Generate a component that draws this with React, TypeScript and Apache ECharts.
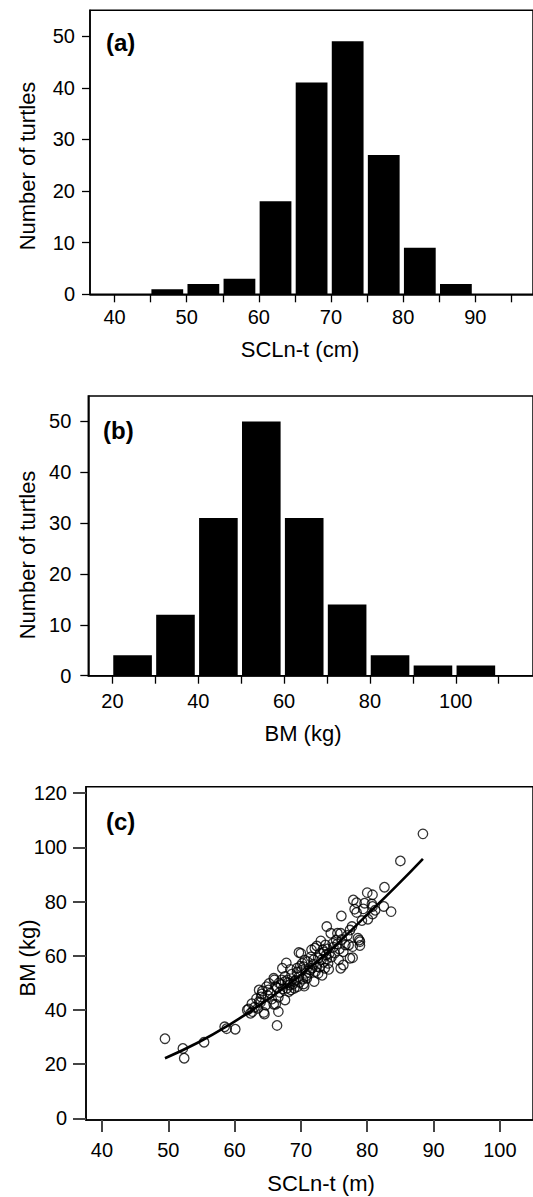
import React, { useEffect, useRef } from 'react';
import * as echarts from 'echarts';

// Panel (a): SCLn-t histogram (cm)
const sclBinStarts = [45, 50, 55, 60, 65, 70, 75, 80, 85];
const sclCounts = [1, 2, 3, 18, 41, 49, 27, 9, 2];
const sclBinWidth = 5;
const sclLabelTicks = [40, 50, 60, 70, 80, 90];
const sclTickMarks = [40, 45, 50, 55, 60, 65, 70, 75, 80, 85, 90, 95];

// Panel (b): BM histogram (kg)
const bmBinStarts = [20, 30, 40, 50, 60, 70, 80, 90, 100];
const bmCounts = [4, 12, 31, 50, 31, 14, 4, 2, 2];
const bmBinWidth = 10;
const bmLabelTicks = [20, 40, 60, 80, 100];
const bmTickMarks = [20, 30, 40, 50, 60, 70, 80, 90, 100, 110];

const countTicks = [0, 10, 20, 30, 40, 50];

// Panel (c): scatter BM vs SCLn-t
const cXTicks = [40, 50, 60, 70, 80, 90, 100];
const cYTicks = [0, 20, 40, 60, 80, 100, 120];

const scatterSCL = [
  49.5, 52.2, 52.4, 55.4, 58.5, 58.8, 60.1, 62.1, 62.4, 62.7, 63.0, 63.7, 63.5, 64.4, 64.5, 64.7,
  66.4, 66.6, 65.9, 66.2, 66.6, 63.7, 64.1, 64.8, 65.1, 65.4, 65.9, 66.0, 66.2, 67.2, 67.8, 67.6,
  67.1, 67.6, 68.0, 68.3, 68.5, 69.0, 69.5, 69.7, 69.4, 69.7, 70.0, 70.2, 70.4, 70.7, 70.4, 70.9,
  71.4, 71.6, 71.9, 72.1, 72.4, 72.6, 72.9, 73.0, 73.1, 73.3, 73.6, 73.8, 74.1, 74.3, 74.5, 73.9,
  74.8, 75.3, 75.5, 75.7, 76.0, 76.1, 76.0, 76.4, 76.7, 77.2, 77.4, 77.7, 77.4, 77.8, 77.8, 78.6,
  78.8, 78.9, 78.9, 77.9, 78.1, 78.4, 79.4, 79.6, 80.0, 80.8, 80.1, 80.7, 80.8, 80.8, 82.5, 82.6,
  83.6, 85.0, 88.4,
  63.3, 64.0, 65.0, 65.6, 66.8, 67.3, 67.9, 68.2, 68.8, 69.2, 69.8, 70.3, 70.8, 71.2, 71.7, 72.2,
  72.8, 73.4, 73.9, 74.6, 75.1, 75.8, 76.4, 71.0, 70.6, 69.4, 68.6, 67.6, 66.7, 66.4, 71.5, 72.6,
  73.5, 74.0, 74.9, 75.5, 76.2, 72.0, 70.5, 69.0, 73.2, 74.2, 69.9, 68.4, 67.0, 65.2, 64.2, 62.6,
  61.9, 63.9, 72.4, 73.7, 77.0, 79.2, 81.2, 78.4, 70.1, 71.9, 68.0
];
const scatterBM = [
  29.4, 25.8, 22.2, 28.1, 33.8, 33.1, 32.9, 40.4, 38.8, 39.4, 41.0, 43.1, 40.6, 39.1, 38.5, 41.8,
  34.3, 39.4, 42.1, 42.1, 44.7, 47.4, 45.9, 48.6, 47.4, 46.2, 51.7, 51.1, 48.6, 55.4, 57.4, 43.7,
  51.1, 50.5, 51.1, 49.2, 47.4, 50.5, 48.6, 52.3, 55.4, 61.2, 60.9, 57.2, 56.0, 53.5, 49.6, 51.7,
  54.8, 62.2, 58.5, 62.8, 56.0, 53.5, 60.9, 65.5, 58.5, 62.2, 55.4, 60.3, 57.2, 60.9, 68.3, 70.8,
  64.6, 65.8, 68.3, 58.5, 68.3, 74.7, 55.4, 56.6, 64.0, 64.0, 69.5, 70.8, 59.1, 59.3, 63.4, 66.5,
  65.8, 65.2, 63.8, 80.6, 77.2, 79.6, 77.3, 79.4, 83.3, 82.5, 73.5, 79.1, 75.4, 78.2, 78.2, 85.3,
  76.3, 95.0, 105.0,
  44.2, 44.8, 45.3, 44.0, 46.5, 47.8, 48.0, 46.8, 49.5, 51.0, 50.2, 51.4, 52.6, 53.8, 55.5, 54.2,
  55.8, 57.6, 58.8, 59.5, 61.0, 62.5, 61.5, 57.8, 58.4, 54.0, 53.2, 52.4, 50.0, 48.2, 59.6, 59.2,
  61.4, 62.5, 63.2, 64.4, 66.0, 50.5, 48.8, 48.0, 52.8, 55.0, 56.2, 55.0, 49.4, 49.8, 47.0, 42.3,
  40.0, 42.8, 63.6, 64.0, 67.5, 73.0, 76.8, 76.0, 54.6, 56.9, 50.0
];

// Fitted curve
const fitSCL = [49.5, 54.5, 59.5, 64.5, 69.5, 74.5, 79.5, 84.5, 88.4];
const fitBM = [22.2, 28.0, 35.0, 43.0, 52.0, 62.2, 74.0, 86.0, 95.8];

const FONT = '"Liberation Sans", Arial, Helvetica, sans-serif';

function histRender(binWidth: number) {
  return (params: any, api: any) => {
    const x0 = api.value(0);
    const h = api.value(1);
    const pTop = api.coord([x0, h]);
    const pBot = api.coord([x0 + binWidth, 0]);
    return {
      type: 'rect',
      shape: {
        x: pTop[0] + 0.8,
        y: pTop[1],
        width: pBot[0] - pTop[0] - 4.3,
        height: pBot[1] - pTop[1],
      },
      style: { fill: '#000' },
    };
  };
}

function xAxisCfg(gridIndex: number, min: number, max: number, ticks: number[], labels: number[], margin: number, tickLen: number, tickColor: string, tickWidth: number) {
  return {
    type: 'value',
    gridIndex,
    min,
    max,
    axisLine: { show: true, onZero: false, lineStyle: { color: '#000', width: 1.5 } },
    axisTick: { show: true, length: tickLen, customValues: ticks, lineStyle: { color: tickColor, width: tickWidth } },
    axisLabel: { show: true, customValues: labels, margin, fontSize: 20, color: '#000', fontFamily: FONT },
    splitLine: { show: false },
  };
}

function yAxisCfg(gridIndex: number, min: number, max: number, ticks: number[], margin: number, tickLen: number, tickColor: string, tickWidth: number) {
  return {
    type: 'value',
    gridIndex,
    min,
    max,
    axisLine: { show: true, onZero: false, lineStyle: { color: '#000', width: 1.5 } },
    axisTick: { show: true, length: tickLen, customValues: ticks, lineStyle: { color: tickColor, width: tickWidth } },
    axisLabel: { show: true, customValues: ticks, margin, fontSize: 20, color: '#000', fontFamily: FONT },
    splitLine: { show: false },
  };
}

function textEl(text: string, x: number, y: number, size: number, bold: boolean, rotate: boolean) {
  return {
    type: 'text',
    x,
    y,
    rotation: rotate ? Math.PI / 2 : 0,
    style: {
      text,
      fontSize: size,
      fontFamily: FONT,
      fontWeight: bold ? 'bold' : 'normal',
      fill: '#000',
      align: rotate ? 'center' : bold ? 'left' : 'center',
      verticalAlign: 'middle',
    },
  };
}

export default function App() {
  const ref = useRef<HTMLDivElement>(null);
  useEffect(() => {
    if (!ref.current) return;
    const chart = echarts.init(ref.current, null, { renderer: 'svg' });
    const gridStyle = { show: true, borderColor: '#000', borderWidth: 1.5, backgroundColor: 'transparent' };
    chart.setOption({
      animation: false,
      backgroundColor: '#fff',
      grid: [
        { ...gridStyle, left: 90, top: 10.3, width: (98 - 36.6) * 7.47, height: 284 },
        { ...gridStyle, left: 88.3, top: 396, width: (118 - 14.37) * 4.437, height: 279.7 },
        { ...gridStyle, left: 86, top: 786.7, width: (105 - 37.59) * 6.92, height: 333.3 },
      ],
      xAxis: [
        xAxisCfg(0, 36.6, 98, sclTickMarks, sclLabelTicks, 13, 8, '#000', 1.3),
        xAxisCfg(1, 14.37, 118, bmTickMarks, bmLabelTicks, 15, 8, '#000', 1.3),
        xAxisCfg(2, 37.59, 105, cXTicks, cXTicks, 20, 12, '#444', 2),
      ],
      yAxis: [
        yAxisCfg(0, 0, 55, countTicks, 15, 8, '#000', 1.3),
        yAxisCfg(1, 0, 55, countTicks, 17, 8, '#000', 1.3),
        yAxisCfg(2, -0.6, 122.4, cYTicks, 19, 13, '#444', 2),
      ],
      series: [
        {
          type: 'custom',
          xAxisIndex: 0,
          yAxisIndex: 0,
          renderItem: histRender(sclBinWidth),
          data: sclBinStarts.map((s, i) => [s, sclCounts[i]]),
          encode: { x: 0, y: 1 },
        },
        {
          type: 'custom',
          xAxisIndex: 1,
          yAxisIndex: 1,
          renderItem: histRender(bmBinWidth),
          data: bmBinStarts.map((s, i) => [s, bmCounts[i]]),
          encode: { x: 0, y: 1 },
        },
        {
          type: 'scatter',
          xAxisIndex: 2,
          yAxisIndex: 2,
          symbol: 'circle',
          symbolSize: 9.5,
          itemStyle: { color: 'rgba(0,0,0,0)', borderColor: '#000', borderWidth: 1.3 },
          data: scatterSCL.map((x, i) => [x, scatterBM[i]]),
          z: 2,
        },
        {
          type: 'line',
          xAxisIndex: 2,
          yAxisIndex: 2,
          smooth: true,
          showSymbol: false,
          symbol: 'none',
          lineStyle: { color: '#000', width: 2.6 },
          data: fitSCL.map((x, i) => [x, fitBM[i]]),
          z: 3,
        },
      ],
      graphic: [
        textEl('(a)', 106, 42, 24, true, false),
        textEl('(b)', 103, 430, 24, true, false),
        textEl('(c)', 106, 821, 24, true, false),
        textEl('Number of turtles', 27, 166, 22, false, true),
        textEl('Number of turtles', 27, 555, 22, false, true),
        textEl('BM (kg)', 27, 958, 22, false, true),
        textEl('SCLn-t (cm)', 300, 349, 22, false, false),
        textEl('BM (kg)', 303, 733, 22, false, false),
        textEl('SCLn-t (m)', 321, 1183, 22, false, false),
      ],
    });
    return () => chart.dispose();
  }, []);
  return <div ref={ref} style={{ position: 'absolute', left: 0, top: 0, width: 533, height: 1197 }} />;
}
